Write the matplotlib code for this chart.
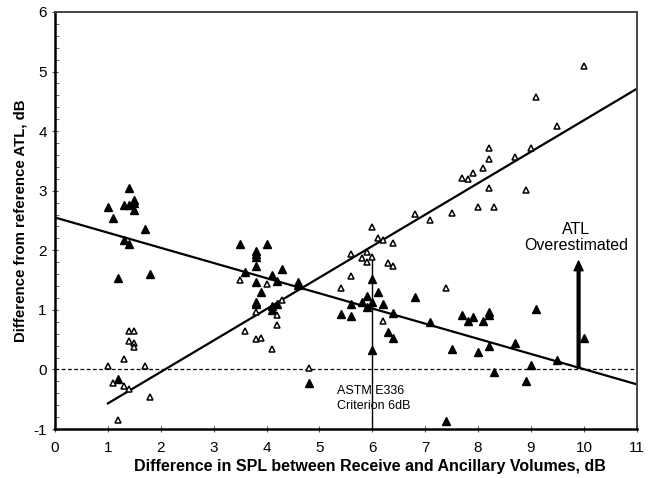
"""Difference from reference ATL against SPL difference between volumes."""

import matplotlib.pyplot as plt
from matplotlib.ticker import MultipleLocator

plt.rcParams["font.family"] = ["Liberation Sans", "DejaVu Sans"]
plt.rcParams["axes.unicode_minus"] = False

# filled triangles
filled_x = [1.0, 1.1, 1.4, 1.3, 1.4, 1.5, 1.5, 1.5, 1.3, 1.4, 1.7, 1.2, 1.8, 1.2,
            3.5, 4.0, 3.8, 3.8, 3.8, 3.8, 4.3, 3.6, 4.1, 4.2, 3.8, 4.6, 4.6, 3.9,
            3.8, 3.8, 4.2, 4.1, 4.1, 4.8,
            6.0, 6.1, 5.9, 5.8, 6.0, 6.2, 5.6, 5.9, 5.4, 5.6, 6.4, 6.3, 6.4, 6.0,
            6.8, 9.1, 7.7, 7.9, 7.8, 8.1, 8.2, 8.2, 7.1, 10.0, 8.7, 8.2, 7.5, 8.0,
            9.5, 9.0, 8.3, 8.9, 7.4]
filled_y = [2.72, 2.54, 3.04, 2.76, 2.76, 2.85, 2.79, 2.68, 2.17, 2.11, 2.35, 1.53,
            1.61, -0.16,
            2.10, 2.10, 1.98, 1.93, 1.88, 1.73, 1.68, 1.64, 1.59, 1.49, 1.46, 1.46,
            1.42, 1.30, 1.13, 1.09, 1.10, 1.06, 1.00, -0.23,
            1.51, 1.30, 1.24, 1.14, 1.13, 1.10, 1.09, 1.04, 0.93, 0.89, 0.94, 0.62,
            0.52, 0.33,
            1.21, 1.01, 0.92, 0.88, 0.82, 0.81, 0.96, 0.92, 0.79, 0.52, 0.44, 0.39,
            0.35, 0.29, 0.15, 0.07, -0.05, -0.20, -0.87]

# open triangles
open_x = [1.4, 1.5, 1.4, 1.5, 1.5, 1.3, 1.0, 1.7, 1.1, 1.3, 1.4, 1.8, 1.2,
          3.5, 4.0, 3.8, 4.2, 4.3, 4.2, 3.6, 3.8, 3.9, 4.1, 4.8,
          6.0, 6.1, 6.2, 6.4, 5.6, 5.9, 5.8, 6.0, 5.9, 6.3, 6.4, 5.6, 5.4, 6.2,
          6.8, 10.0, 9.1, 9.5, 9.0, 8.7, 8.2, 8.2, 8.1, 7.9, 7.7, 7.8, 8.2, 8.9,
          8.0, 8.3, 7.1, 7.5, 7.4]
open_y = [0.64, 0.64, 0.47, 0.45, 0.38, 0.18, 0.06, 0.06, -0.22, -0.27, -0.33,
          -0.47, -0.85,
          1.50, 1.44, 0.97, 0.92, 1.17, 0.75, 0.64, 0.51, 0.53, 0.34, 0.03,
          2.39, 2.20, 2.17, 2.13, 1.94, 1.97, 1.87, 1.88, 1.80, 1.78, 1.74, 1.57,
          1.36, 0.82,
          2.61, 5.09, 4.57, 4.08, 3.72, 3.56, 3.72, 3.54, 3.38, 3.29, 3.21, 3.20,
          3.04, 3.01, 2.72, 2.72, 2.50, 2.62, 1.36]

# trend lines (end points)
filled_fit_x = [0.0, 11.0]
filled_fit_y = [2.55, -0.25]
open_fit_x = [1.0, 11.0]
open_fit_y = [-0.57, 4.71]

criterion_x = 6.0
criterion_top = 1.87
arrow_x = 9.9
arrow_top = 1.82


def main() -> None:
    fig = plt.figure(figsize=(6.57, 4.78), dpi=100)
    ax = fig.add_axes([0.0837, 0.1025, 0.8855, 0.8725])

    ax.axhline(0, color="black", linestyle=(0, (3, 2)), linewidth=0.9)
    ax.plot(filled_fit_x, filled_fit_y, color="black", linewidth=1.6)
    ax.plot(open_fit_x, open_fit_y, color="black", linewidth=1.6)
    ax.plot([criterion_x, criterion_x], [-1, criterion_top], color="black",
            linewidth=1.0)

    ax.plot(filled_x, filled_y, linestyle="none", marker="^", markersize=5.2,
            color="black")
    ax.plot(open_x, open_y, linestyle="none", marker="^", markersize=5,
            markerfacecolor="white", markeredgecolor="black",
            markeredgewidth=1.1)

    ax.annotate("", xy=(arrow_x, arrow_top), xytext=(arrow_x, 0.02),
                arrowprops=dict(facecolor="black", edgecolor="black",
                                width=2.0, headwidth=6.5, headlength=7,
                                shrink=0))
    ax.text(9.85, 2.22, "ATL\nOverestimated", ha="center", va="center",
            fontsize=11.5, linespacing=1.1)
    ax.text(5.34, -0.485, "ASTM E336\nCriterion 6dB", ha="left", va="center",
            fontsize=9, linespacing=1.35)

    ax.set_xlim(0, 11)
    ax.set_ylim(-1, 6)
    ax.xaxis.set_major_locator(MultipleLocator(1))
    ax.yaxis.set_major_locator(MultipleLocator(1))
    ax.yaxis.set_minor_locator(MultipleLocator(0.2))
    ax.tick_params(axis="both", which="major", direction="inout", length=5,
                   width=0.8, labelsize=11, color="#555555")
    ax.tick_params(axis="x", which="major", pad=6)
    ax.tick_params(axis="y", which="minor", direction="in", length=3,
                   width=0.6, color="#555555")

    for side in ["top", "right"]:
        ax.spines[side].set_color("#444444")
        ax.spines[side].set_linewidth(1.4)
    for side in ["left", "bottom"]:
        ax.spines[side].set_color("black")
        ax.spines[side].set_linewidth(1.8)

    ax.set_xlabel("Difference in SPL between Receive and Ancillary Volumes, dB",
                  fontsize=11.5, fontweight="bold", labelpad=4)
    ax.xaxis.set_label_coords(0.541, -0.072)
    ax.set_ylabel("Difference from reference ATL, dB", fontsize=10.8,
                  fontweight="bold", labelpad=4)

    fig.savefig("out.png", dpi=100)
    plt.close(fig)


if __name__ == "__main__":
    main()
